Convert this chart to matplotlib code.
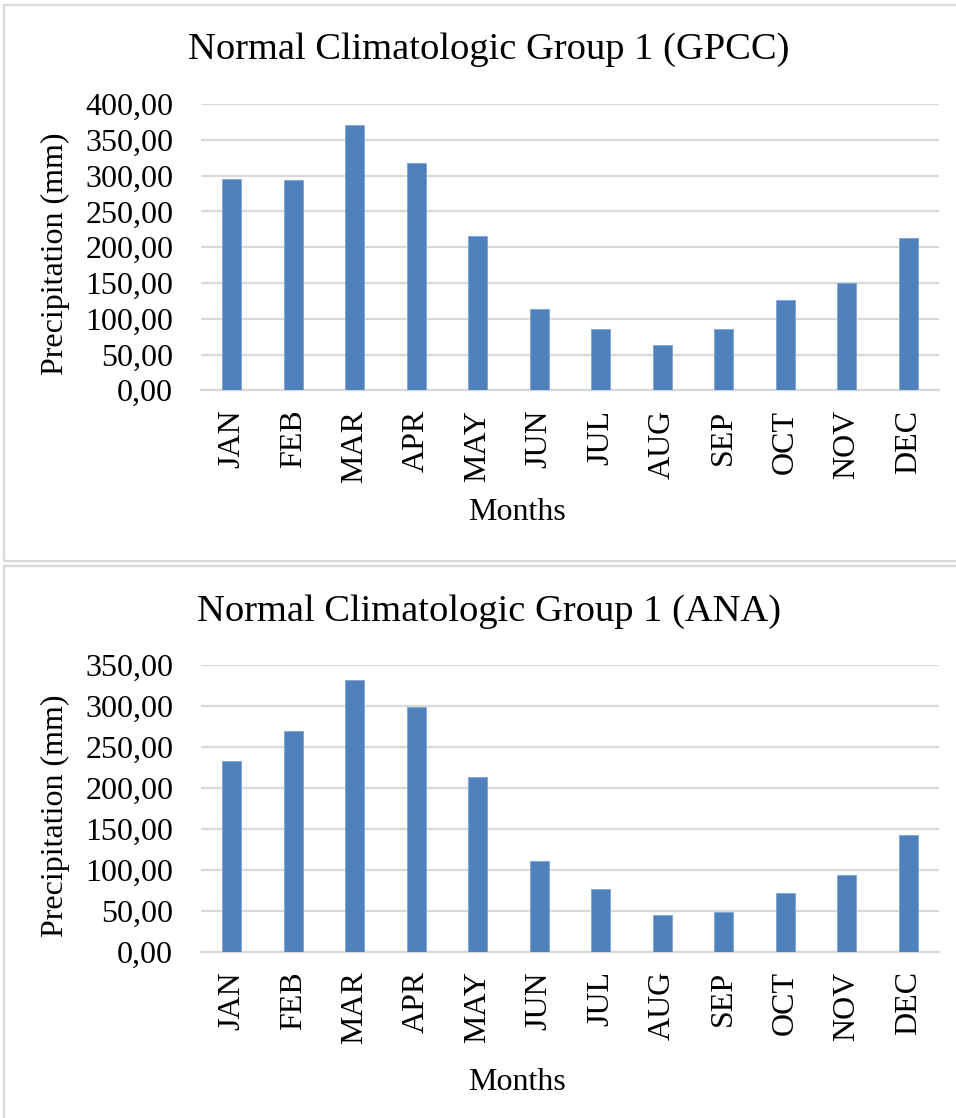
import matplotlib
matplotlib.use("Agg")
import matplotlib.pyplot as plt
from matplotlib.patches import Rectangle

months = ["JAN", "FEB", "MAR", "APR", "MAY", "JUN",
          "JUL", "AUG", "SEP", "OCT", "NOV", "DEC"]
gpcc = [295.2, 293.8, 370.6, 318.0, 215.0, 113.2,
        85.2, 62.9, 85.2, 125.7, 149.5, 212.8]
ana = [233.5, 269.4, 332.5, 299.1, 213.6, 111.3,
       77.0, 44.9, 48.5, 71.4, 94.2, 142.3]
gpcc_ticks = [0, 50, 100, 150, 200, 250, 300, 350, 400]
ana_ticks = [0, 50, 100, 150, 200, 250, 300, 350]

W, H = 956, 1118
plt.rcParams["font.family"] = ["Liberation Serif", "DejaVu Serif"]

fig = plt.figure(figsize=(W / 100, H / 100), dpi=100)
fig.patch.set_facecolor("white")

BAR = "#4f81bd"
GRID = "#d9d9d9"
FS = 23
TITLE_FS = 27.7


def px(x, y):
    return x / W, 1 - y / H


def fmt(v):
    return f"{v:.2f}".replace(".", ",")


def panel(top_px, bottom_px, values, ticks, title, title_y, months_y):
    left, right = 201, 939
    ax = fig.add_axes([left / W, 1 - bottom_px / H, (right - left) / W,
                       (bottom_px - top_px) / H])
    x = list(range(len(months)))
    ax.bar(x, values, width=0.31, color=BAR, edgecolor="#7fa3cf",
           linewidth=0.6, zorder=3)
    ax.set_xlim(-0.5, len(months) - 0.5)
    ax.set_ylim(ticks[0], ticks[-1])
    ax.set_yticks(ticks)
    ax.set_yticklabels([fmt(t) for t in ticks], fontsize=FS)
    ax.set_xticks(x)
    ax.set_xticklabels(months, rotation=90, fontsize=FS)
    ax.tick_params(axis="y", length=0, pad=20)
    ax.tick_params(axis="x", length=0, pad=14)
    ax.grid(axis="y", color=GRID, linewidth=1.6, zorder=0)
    ax.set_axisbelow(True)
    for s in ("top", "right", "left"):
        ax.spines[s].set_visible(False)
    ax.spines["bottom"].set_color(GRID)
    ax.spines["bottom"].set_linewidth(1.6)
    fig.text(*px(55, (top_px + bottom_px) / 2 + 7), "Precipitation (mm)",
             rotation=90, ha="center", va="center", fontsize=FS)
    fig.text(*px(489, title_y), title, ha="center", va="center",
             fontsize=TITLE_FS)
    fig.text(*px(517, months_y), "Months", ha="center", va="center",
             fontsize=FS)
    return ax


# chart frames
for y0, y1 in ((4.5, 561), (565.5, 1130)):
    fig.add_artist(Rectangle(px(4, y1), (960 - 4) / W, (y1 - y0) / H,
                             transform=fig.transFigure, fill=False,
                             edgecolor=GRID, linewidth=1.6, clip_on=False))

panel(104, 390.3, gpcc, gpcc_ticks, "Normal Climatologic Group 1 (GPCC)",
      50, 512)
panel(665.3, 951.7, ana, ana_ticks, "Normal Climatologic Group 1 (ANA)",
      612, 1082)

fig.savefig("out.png", dpi=100, facecolor="white")
